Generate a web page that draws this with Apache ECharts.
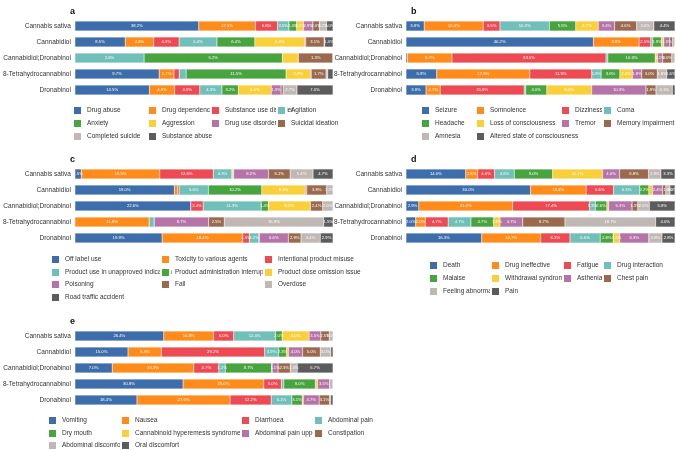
<!DOCTYPE html>
<html>
<head>
<meta charset="utf-8">
<script src="https://cdn.jsdelivr.net/npm/echarts@6/dist/echarts.min.js"></script>
<style>html,body{margin:0;padding:0;background:#fff}#chart{width:676px;height:450px}</style>
</head>
<body>
<div id="chart"></div>
<script>
var products = ['Cannabis sativa', 'Cannabidiol', 'Cannabidiol;Dronabinol', '8-Tetrahydrocannabinol', 'Dronabinol'];
var colors = ['#3d6eab', '#ff8c1a', '#ee4a53', '#70bfb8', '#48a43f', '#f9d03a', '#b673a8', '#9b6a4e', '#c0b8b4', '#5c5c5c'];

var eventsA = ['Drug abuse', 'Drug dependence', 'Substance use disorder', 'Agitation', 'Anxiety', 'Aggression', 'Drug use disorder', 'Suicidal ideation', 'Completed suicide', 'Substance abuse'];
var valuesA = [
  [38.2, 17.5, 6.8, 3.5, 2.4, 2.1, 2.9, 2.0, 2.2, 2.0],
  [8.5, 4.8, 4.3, 6.4, 6.4, 8.4, 0.2, 3.1, 0.1, 1.4],
  [0, 0, 0, 2.6, 5.2, 0.6, 0, 1.3, 0, 0],
  [9.7, 1.7, 0.6, 0.8, 11.5, 2.8, 0.1, 1.7, 0.2, 0.6],
  [14.5, 4.9, 4.9, 4.3, 3.2, 6.4, 1.9, 0.4, 2.7, 7.0]
];
var eventsB = ['Seizure', 'Somnolence', 'Dizziness', 'Coma', 'Headache', 'Loss of consciousness', 'Tremor', 'Memory impairment', 'Amnesia', 'Altered state of consciousness'];
var valuesB = [
  [3.8, 12.3, 3.5, 10.3, 5.5, 4.7, 3.4, 4.6, 3.6, 4.4],
  [40.2, 9.8, 2.5, 0.4, 1.9, 0.5, 1.3, 0.6, 0.5, 0],
  [0.3, 9.7, 33.5, 0.4, 10.3, 0.5, 1.1, 2.0, 0.7, 0],
  [5.9, 17.9, 11.9, 1.8, 3.6, 2.4, 1.8, 3.0, 1.8, 1.6],
  [3.8, 2.7, 15.9, 0.3, 4.0, 8.5, 10.3, 1.9, 3.1, 0.5]
];
var eventsC = ['Off label use', 'Toxicity to various agents', 'Intentional product misuse', 'Product use in unapproved indication', 'Product administration interrupted', 'Product dose omission issue', 'Poisoning', 'Fall', 'Overdose', 'Road traffic accident'];
var valuesC = [
  [1.5, 18.5, 12.6, 4.3, 0.2, 0.3, 8.2, 5.1, 5.4, 4.7],
  [19.0, 0.6, 0.3, 5.6, 10.2, 8.3, 0.3, 3.8, 1.2, 0],
  [22.6, 0, 2.4, 11.3, 1.4, 8.2, 0, 2.4, 2.0, 0],
  [0, 11.9, 0, 0.8, 0, 0, 8.7, 2.5, 15.9, 1.5],
  [19.9, 18.4, 1.5, 2.2, 0.1, 0, 6.6, 2.9, 4.4, 2.9]
];
var eventsD = ['Death', 'Drug ineffective', 'Fatigue', 'Drug interaction', 'Malaise', 'Withdrawal syndrome', 'Asthenia', 'Chest pain', 'Feeling abnormal', 'Pain'];
var valuesD = [
  [14.0, 2.8, 4.0, 4.6, 9.0, 11.7, 4.0, 6.8, 2.9, 3.3],
  [30.0, 13.4, 6.6, 6.3, 2.2, 0.9, 2.4, 0.8, 1.0, 1.2],
  [2.9, 21.2, 17.4, 1.3, 2.6, 0.4, 5.3, 1.3, 2.6, 5.8],
  [2.0, 2.0, 4.7, 4.7, 4.7, 1.3, 4.7, 8.7, 18.7, 4.0],
  [16.3, 12.7, 6.3, 6.5, 2.8, 1.4, 6.3, 0, 2.8, 2.8]
];
var eventsE = ['Vomiting', 'Nausea', 'Diarrhoea', 'Abdominal pain', 'Dry mouth', 'Cannabinoid hyperemesis syndrome', 'Abdominal pain upper', 'Constipation', 'Abdominal discomfort', 'Oral discomfort'];
var valuesE = [
  [26.4, 14.8, 6.0, 12.4, 2.0, 8.0, 3.5, 2.5, 1.1, 0],
  [15.0, 9.4, 29.2, 3.9, 2.3, 0.5, 4.0, 5.0, 3.0, 0.6],
  [7.0, 15.3, 4.7, 1.2, 8.7, 0.1, 1.1, 2.3, 1.3, 6.7],
  [30.8, 23.0, 5.0, 0.7, 9.0, 0.6, 3.5, 0, 0.9, 0],
  [18.4, 27.6, 12.2, 6.1, 3.1, 0.3, 4.7, 3.1, 0.3, 0.7]
];

// panel layout: grid box, title position, legend columns / rows
var panels = [
  {tag: 'a', events: eventsA, values: valuesA, left: 65, right: 343, top: 18, height: 80,
   legX: [72, 147, 210, 276], legY: [110, 123, 136]},
  {tag: 'b', events: eventsB, values: valuesB, left: 406, right: 1, top: 18, height: 80,
   legX: [420, 475, 560, 602], legY: [110, 123, 136]},
  {tag: 'c', events: eventsC, values: valuesC, left: 65, right: 343, top: 166, height: 80,
   legX: [50, 160, 263], legY: [259, 272, 284, 297]},
  {tag: 'd', events: eventsD, values: valuesD, left: 406, right: 1, top: 166, height: 80,
   legX: [428, 490, 562, 602], legY: [265, 278, 291]},
  {tag: 'e', events: eventsE, values: valuesE, left: 65, right: 343, top: 328, height: 80,
   legX: [47, 120, 240, 313], legY: [420, 433, 445]}
];

var grids = [], xAxes = [], yAxes = [], series = [], legends = [], titles = [];

panels.forEach(function (p, pi) {
  grids.push({left: p.left, right: p.right, top: p.top, height: p.height});
  xAxes.push({type: 'value', gridIndex: pi, min: 0, max: 100, show: false});
  yAxes.push({
    type: 'category', gridIndex: pi, data: products, inverse: true,
    axisLine: {show: false}, axisTick: {show: false},
    axisLabel: {fontSize: 6.5, color: '#333', margin: 4, fontFamily: 'Liberation Sans'}
  });
  titles.push({text: p.tag, left: p.left, top: p.top - 16,
    textStyle: {fontSize: 9, fontWeight: 'bold', color: '#111', fontFamily: 'Liberation Sans'}});
  var sums = p.values.map(function (row) { return row.reduce(function (s, v) { return s + v; }, 0); });
  p.events.forEach(function (ev, ei) {
    series.push({
      name: ev, type: 'bar', stack: 'p' + pi, xAxisIndex: pi, yAxisIndex: pi,
      barWidth: 10,
      itemStyle: {color: colors[ei], borderColor: '#fff', borderWidth: 0.3},
      label: {
        show: true, color: '#fff', fontSize: 4.2, fontFamily: 'Liberation Sans',
        formatter: function (d) { return d.data.raw >= 1 ? d.data.raw.toFixed(1) + '%' : ''; }
      },
      data: p.values.map(function (row, ri) {
        return {value: row[ei] / sums[ri] * 100, raw: row[ei]};
      })
    });
    var cols = p.legX.length;
    legends.push({
      data: [ev], left: p.legX[ei % cols], top: p.legY[Math.floor(ei / cols)] - 5,
      icon: 'rect', itemWidth: 9, itemHeight: 9, padding: 0, selectedMode: false,
      itemStyle: {color: colors[ei]},
      textStyle: {fontSize: 6.5, color: '#333', fontFamily: 'Liberation Sans'}
    });
  });
});

var chart = echarts.init(document.getElementById('chart'));
chart.setOption({
  animation: false,
  color: colors,
  title: titles,
  grid: grids,
  xAxis: xAxes,
  yAxis: yAxes,
  legend: legends,
  series: series
});
</script>
</body>
</html>
